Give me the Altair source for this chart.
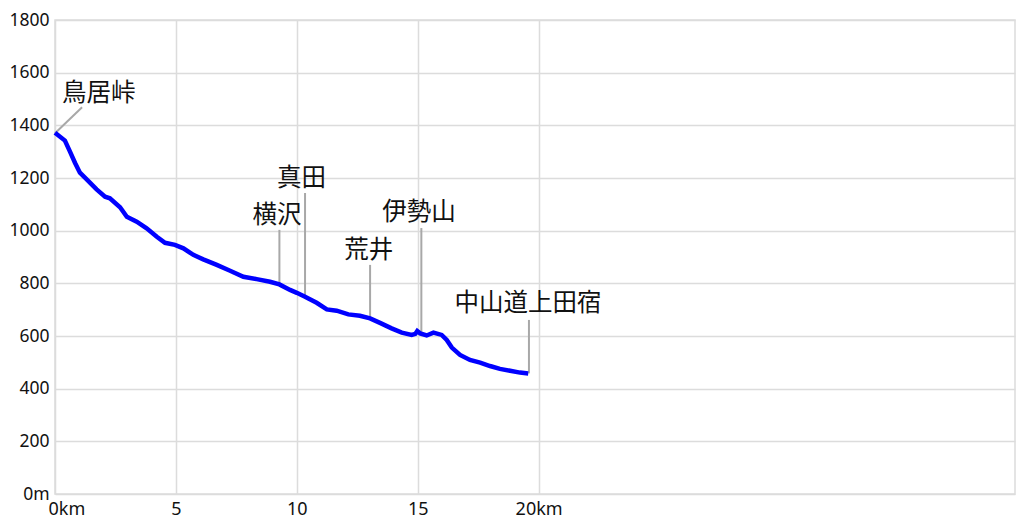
import altair as alt
import pandas as pd

# elevation profile (distance km, elevation m)
dist_km = [0.00, 0.41, 0.62, 0.83, 1.03, 1.31, 1.72, 2.07, 2.27, 2.69, 2.97, 3.38,
           3.79, 4.21, 4.55, 4.96, 5.31, 5.72, 6.13, 6.69, 7.24, 7.79, 8.34, 8.89,
           9.28, 9.72, 10.00, 10.34, 10.82, 11.24, 11.65, 12.13, 12.61, 13.03, 13.44,
           13.92, 14.34, 14.75, 14.90, 14.98, 15.10, 15.37, 15.65, 15.99, 16.20, 16.41,
           16.75, 17.16, 17.58, 17.99, 18.40, 18.82, 19.23, 19.57]
elev_m = [1372, 1342, 1300, 1257, 1220, 1195, 1157, 1129, 1123, 1089, 1053, 1034,
          1009, 977, 954, 946, 933, 908, 891, 870, 848, 825, 816, 806,
          796, 775, 764, 749, 726, 701, 696, 682, 677, 667, 650,
          629, 613, 604, 608, 619, 610, 602, 613, 604, 585, 556,
          528, 509, 499, 486, 475, 468, 461, 458]

# place annotations
place_names = ["鳥居峠", "横沢", "真田", "荒井", "伊勢山", "中山道上田宿"]
label_km = [0.29, 9.18, 10.19, 12.97, 15.05, 19.56]
label_m = [1473, 1010, 1151, 877, 1023, 676]
label_align = ["left", "center", "center", "center", "center", "center"]
lead_km = [0.00, 9.28, 10.34, 13.03, 15.15, 19.60]
lead_m = [1370, 796, 749, 667, 612, 458]
lead_km2 = [1.12, 9.28, 10.34, 13.03, 15.15, 19.60]
lead_m2 = [1469, 1003, 1143, 870, 1010, 661]

# axis ticks
x_ticks = [0, 5, 10, 15, 20]
x_tick_labels = ["0km", "5", "10", "15", "20km"]
y_ticks = [0, 200, 400, 600, 800, 1000, 1200, 1400, 1600, 1800]
y_tick_labels = ["0m", "200", "400", "600", "800", "1000", "1200", "1400", "1600", "1800"]


def label_expr(vals, labs):
    expr = "datum.label"
    for v, l in reversed(list(zip(vals, labs))):
        expr = f"datum.value == {v} ? '{l}' : ({expr})"
    return expr


FONT = "Noto Sans CJK JP"
AXIS_FONT = "Noto Sans"

profile = pd.DataFrame({"km": dist_km, "m": elev_m})
places = pd.DataFrame({
    "name": place_names, "lx": label_km, "ly": label_m, "align": label_align,
    "x1": lead_km, "y1": lead_m, "x2": lead_km2, "y2": lead_m2,
})

xscale = alt.Scale(domain=[0, 39.7], nice=False, zero=False)
yscale = alt.Scale(domain=[0, 1800], nice=False)

xaxis = alt.Axis(values=x_ticks, labelExpr=label_expr(x_ticks, x_tick_labels),
                 title=None, grid=True, ticks=False, domain=False,
                 labelFlush=True, labelFlushOffset=7,
                 labelFont=AXIS_FONT, labelFontSize=18, labelColor="#111",
                 labelPadding=6, gridColor="#dcdcdc", gridWidth=1.5)
yaxis = alt.Axis(values=y_ticks, labelExpr=label_expr(y_ticks, y_tick_labels),
                 title=None, grid=True, ticks=False, domain=False,
                 labelFlush=False, labelBaseline="middle",
                 labelFont=AXIS_FONT, labelFontSize=17.5, labelColor="#111",
                 labelPadding=6, gridColor="#dcdcdc", gridWidth=1.5)

line = alt.Chart(profile).mark_line(color="#0000ff", strokeWidth=4.5).encode(
    x=alt.X("km:Q", scale=xscale, axis=xaxis),
    y=alt.Y("m:Q", scale=yscale, axis=yaxis),
)

leaders = alt.Chart(places).mark_rule(color="#a8a8a8", strokeWidth=2).encode(
    x=alt.X("x1:Q", scale=xscale),
    y=alt.Y("y1:Q", scale=yscale),
    x2="x2:Q",
    y2="y2:Q",
)

text_left = alt.Chart(places).transform_filter("datum.align == 'left'").mark_text(
    align="left", baseline="bottom", font=FONT, fontSize=24.5, color="#111"
).encode(
    x=alt.X("lx:Q", scale=xscale),
    y=alt.Y("ly:Q", scale=yscale),
    text="name:N",
)

text_center = alt.Chart(places).transform_filter("datum.align == 'center'").mark_text(
    align="center", baseline="bottom", font=FONT, fontSize=24.5, color="#111"
).encode(
    x=alt.X("lx:Q", scale=xscale),
    y=alt.Y("ly:Q", scale=yscale),
    text="name:N",
)

chart = alt.layer(leaders, line, text_left, text_center).properties(
    width=960, height=474,
    autosize=alt.AutoSizeParams(type="none"),
    padding={"left": 47, "top": 12, "right": 1, "bottom": 26},
    background="white",
).configure_view(stroke="#dcdcdc", strokeWidth=1.5)

chart.save("out.html", embed_options={"renderer": "svg", "actions": False})
